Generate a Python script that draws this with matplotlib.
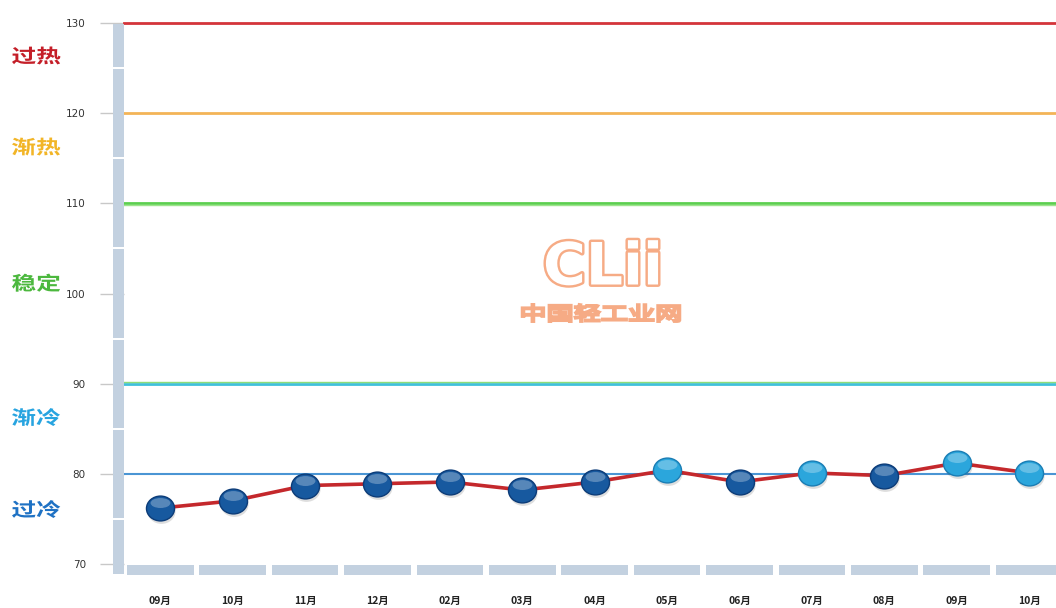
import matplotlib
matplotlib.use("Agg")
import matplotlib.pyplot as plt
import matplotlib.transforms as mtransforms
import matplotlib.patheffects as pe
from matplotlib.patches import Rectangle, PathPatch
from matplotlib.path import Path
from matplotlib.textpath import TextPath
from matplotlib.font_manager import FontProperties

plt.rcParams['font.family'] = ['Noto Sans CJK SC', 'DejaVu Sans']

months = ['09月', '10月', '11月', '12月', '02月', '03月', '04月', '05月', '06月', '07月', '08月', '09月', '10月']
values = [76.2, 77.0, 78.7, 78.9, 79.1, 78.2, 79.1, 80.4, 79.1, 80.1, 79.8, 81.2, 80.1]

ref_levels = [130, 120, 110, 90, 80]
ref_colors = ['#d4343a', '#f3b457', '#5ccf4f', '#3fc0dc', '#4a95d4']
zone_labels = ['过热', '渐热', '稳定', '渐冷', '过冷']
zone_label_y = [126.4, 116.3, 101.2, 86.3, 76.1]
zone_colors = ['#c41e28', '#f2b527', '#4cb83e', '#27a4e0', '#1f72c4']
yticks = [70, 80, 90, 100, 110, 120, 130]

fig = plt.figure(figsize=(10.56, 6.08), dpi=100)
ax = fig.add_axes([124/1056, 1 - 564/608, 932/1056, (564 - 23)/608])
ax.set_xlim(-0.5, 12.37)
ax.set_ylim(70, 130)
for s in ax.spines.values():
    s.set_visible(False)

bt = mtransforms.blended_transform_factory(ax.transAxes, ax.transData)

# reference lines
for lv, c in zip(ref_levels, ref_colors):
    lw = 2.0 if lv != 80 else 1.5
    ax.axhline(lv, color=c, lw=lw, zorder=2, clip_on=False)
ax.plot([0, 1], [90, 90], color='#8ddc7a', lw=1.0, zorder=2,
        transform=mtransforms.offset_copy(bt, fig=fig, y=1.5, units='dots'))
ax.plot([0, 1], [110, 110], color='#9ee48c', lw=1.0, zorder=2,
        transform=mtransforms.offset_copy(bt, fig=fig, y=-1.5, units='dots'))

# ticks
ax.set_yticks(yticks)
ax.set_yticklabels([str(t) for t in yticks], fontsize=7.5, color='#333333', family=['DejaVu Sans'])
ax.tick_params(axis='y', length=17.5, color='#c8c8c8', width=1, pad=10)
ax.set_xticks(range(len(months)))
ax.set_xticklabels(months, fontsize=7.5, color='#222222', fontweight='bold')
ax.tick_params(axis='x', length=0, pad=23)

# grey frame bars
bar_c = '#c3d1e0'
vx0 = -11/932
seg_edges = [130, 125, 115, 105, 95, 85, 75, 68.8]
for top, bot in zip(seg_edges[:-1], seg_edges[1:]):
    ax.add_patch(Rectangle((vx0, bot + 0.12), -vx0 * 0.98, top - bot - 0.24, transform=bt,
                           facecolor=bar_c, edgecolor='none', clip_on=False, zorder=3))
for i in range(len(months) + 1):
    ax.add_patch(Rectangle((i - 0.5 + 0.04, 68.8), 0.92, 1.1, facecolor=bar_c,
                           edgecolor='none', clip_on=False, zorder=3))

# data line and glossy markers
x = list(range(len(values)))
ax.plot(x, values, color='#c4282c', lw=2.6, zorder=4, solid_capstyle='round')
ell = Path.unit_circle().transformed(mtransforms.Affine2D().scale(1.13, 1.0))
hl = Path.unit_circle().transformed(mtransforms.Affine2D().scale(0.80, 0.40).translate(0, 0.44))
ms = 408
ms_hl = ms * (0.84 / 1.13) ** 2
shadow_t = mtransforms.offset_copy(ax.transData, fig=fig, x=1, y=-3, units='dots')
dark_x = [i for i, v in enumerate(values) if v < 80]
dark_y = [v for v in values if v < 80]
light_x = [i for i, v in enumerate(values) if v >= 80]
light_y = [v for v in values if v >= 80]
ax.scatter(x, values, s=ms, marker=ell, color='#000000', alpha=0.13, zorder=5,
           transform=shadow_t, linewidths=0)
ax.scatter(dark_x, dark_y, s=ms, marker=ell, color='#17599f', edgecolors='#0c3c78',
           linewidths=1.0, zorder=6)
ax.scatter(light_x, light_y, s=ms, marker=ell, color='#2ba6dc', edgecolors='#1a7db4',
           linewidths=1.0, zorder=6)
ax.scatter(x, values, s=ms_hl, marker=hl, color='#ffffff', alpha=0.28, zorder=7, linewidths=0)

# zone labels (wide bold glyphs)
fp = FontProperties(family='Noto Sans CJK SC', weight='bold')
fp_light = FontProperties(family='Noto Sans CJK SC', weight='normal')


def wide_text(txt, xa, ya, trans, size, sx, color, edge=None, lw=0.0, z=8, prop=fp):
    tp = TextPath((0, 0), txt, size=size, prop=prop)
    ext = tp.get_extents()
    t = (mtransforms.Affine2D().translate(-ext.x0, -(ext.y0 + ext.y1) / 2).scale(sx, 1.0)
         + mtransforms.ScaledTranslation(xa, ya, trans))
    ax.add_patch(PathPatch(tp, transform=t, facecolor=color,
                           edgecolor=edge if edge else 'none', lw=lw, clip_on=False, zorder=z))
    return ext


for lab, yy, c in zip(zone_labels, zone_label_y, zone_colors):
    wide_text(lab, -112/932, yy, bt, 19, 1.3, c)

# watermark
wm = '#f6ab85'
ax.text(603/1056, 1 - 268/608, 'CLii', transform=fig.transFigure, ha='center', va='center',
        fontsize=42, fontweight='bold', color='white', family=['DejaVu Sans'], zorder=1,
        path_effects=[pe.Stroke(linewidth=3.5, foreground=wm), pe.Normal()])
tp_w = TextPath((0, 0), '中国轻工业网', size=19, prop=fp_light)
wext = tp_w.get_extents()
wide_text('中国轻工业网', 522/1056, 1 - 313/608, fig.transFigure, 19, 158 / wext.width, 'white',
          edge=wm, lw=1.8, z=1, prop=fp_light)

fig.savefig('out.png', dpi=100)
